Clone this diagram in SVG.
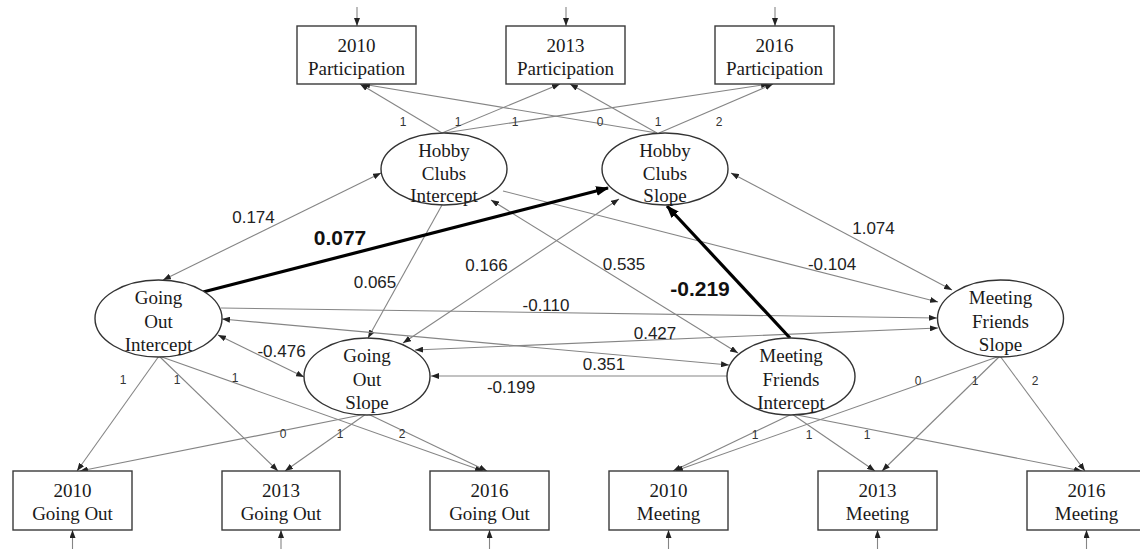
<svg xmlns="http://www.w3.org/2000/svg" width="1140" height="549" viewBox="0 0 1140 549">
<style>
.box{fill:#fff;stroke:#3a3a3a;stroke-width:1.4}
.ell{fill:#fff;stroke:#333;stroke-width:1.4}
.nt{font-family:"Liberation Serif","Times New Roman",serif;font-size:19px;fill:#1a1a1a;text-anchor:middle}
.ln{fill:none;stroke:#858585;stroke-width:1.1}
.th{fill:none;stroke:#000;stroke-width:3.2}
.lab{font-family:"Liberation Sans",Arial,sans-serif;font-size:17px;fill:#222;text-anchor:middle}
.bl{font-family:"Liberation Sans",Arial,sans-serif;font-size:21px;font-weight:bold;fill:#111;text-anchor:middle}
.sm{font-family:"Liberation Sans",Arial,sans-serif;font-size:12px;fill:#333;text-anchor:middle}
</style>
<defs>
<marker id="a" viewBox="0 0 8 6" refX="8" refY="3" markerWidth="8" markerHeight="6" orient="auto-start-reverse" markerUnits="userSpaceOnUse"><path d="M0,0 L8,3 L0,6 z" fill="#222"/></marker>
<marker id="b" viewBox="0 0 12 9" refX="11" refY="4.5" markerWidth="13" markerHeight="10" orient="auto" markerUnits="userSpaceOnUse"><path d="M0,0 L12,4.5 L0,9 z" fill="#000"/></marker>
</defs>
<rect width="1140" height="549" fill="#fff"/>

<g id="connectors">
<!-- error arrows -->
<line class="ln" x1="357" y1="7" x2="357" y2="26" marker-end="url(#a)"/>
<line class="ln" x1="566" y1="7" x2="566" y2="26" marker-end="url(#a)"/>
<line class="ln" x1="775" y1="7" x2="775" y2="26" marker-end="url(#a)"/>
<line class="ln" x1="72.5" y1="549" x2="72.5" y2="530" marker-end="url(#a)"/>
<line class="ln" x1="281" y1="549" x2="281" y2="530" marker-end="url(#a)"/>
<line class="ln" x1="489.5" y1="549" x2="489.5" y2="530" marker-end="url(#a)"/>
<line class="ln" x1="668.5" y1="549" x2="668.5" y2="530" marker-end="url(#a)"/>
<line class="ln" x1="877.5" y1="549" x2="877.5" y2="530" marker-end="url(#a)"/>
<line class="ln" x1="1086.5" y1="549" x2="1086.5" y2="530" marker-end="url(#a)"/>
<!-- hobby loadings -->
<line class="ln" x1="442" y1="133" x2="360" y2="84" marker-end="url(#a)"/>
<line class="ln" x1="442" y1="133" x2="560" y2="84" marker-end="url(#a)"/>
<line class="ln" x1="444" y1="133" x2="769" y2="84" marker-end="url(#a)"/>
<line class="ln" x1="657" y1="133" x2="362" y2="84" marker-end="url(#a)"/>
<line class="ln" x1="657" y1="133" x2="570" y2="84" marker-end="url(#a)"/>
<line class="ln" x1="659" y1="133" x2="773" y2="84" marker-end="url(#a)"/>
<!-- going out loadings -->
<line class="ln" x1="159" y1="356" x2="77" y2="471" marker-end="url(#a)"/>
<line class="ln" x1="159" y1="356" x2="278" y2="471" marker-end="url(#a)"/>
<line class="ln" x1="159" y1="356" x2="483" y2="471" marker-end="url(#a)"/>
<line class="ln" x1="366" y1="414" x2="80" y2="471" marker-end="url(#a)"/>
<line class="ln" x1="366" y1="414" x2="285" y2="471" marker-end="url(#a)"/>
<line class="ln" x1="368" y1="414" x2="487" y2="471" marker-end="url(#a)"/>
<!-- meeting loadings -->
<line class="ln" x1="792" y1="414" x2="673" y2="471" marker-end="url(#a)"/>
<line class="ln" x1="792" y1="414" x2="875" y2="471" marker-end="url(#a)"/>
<line class="ln" x1="792" y1="414" x2="1082" y2="471" marker-end="url(#a)"/>
<line class="ln" x1="1000" y1="356" x2="675" y2="471" marker-end="url(#a)"/>
<line class="ln" x1="1000" y1="356" x2="882" y2="471" marker-end="url(#a)"/>
<line class="ln" x1="1000" y1="356" x2="1085" y2="471" marker-end="url(#a)"/>
<!-- structural -->
<line class="ln" x1="163" y1="280" x2="381" y2="173" marker-start="url(#a)" marker-end="url(#a)"/>
<line class="ln" x1="442" y1="205" x2="368" y2="338" marker-end="url(#a)"/>
<line class="ln" x1="619" y1="199" x2="403" y2="343" marker-start="url(#a)" marker-end="url(#a)"/>
<line class="ln" x1="491" y1="200" x2="738" y2="353" marker-start="url(#a)" marker-end="url(#a)"/>
<line class="ln" x1="503" y1="191" x2="938" y2="302" marker-end="url(#a)"/>
<line class="ln" x1="731" y1="173" x2="952" y2="290" marker-start="url(#a)" marker-end="url(#a)"/>
<line class="ln" x1="221" y1="308" x2="937" y2="318" marker-end="url(#a)"/>
<line class="ln" x1="222" y1="319" x2="729" y2="365" marker-start="url(#a)" marker-end="url(#a)"/>
<line class="ln" x1="415" y1="350" x2="938" y2="328" marker-start="url(#a)" marker-end="url(#a)"/>
<line class="ln" x1="727" y1="376" x2="431" y2="376" marker-end="url(#a)"/>
<line class="ln" x1="218" y1="335" x2="304" y2="377" marker-start="url(#a)" marker-end="url(#a)"/>
<line class="th" x1="203" y1="292" x2="608" y2="188" marker-end="url(#b)"/>
<line class="th" x1="790" y1="338" x2="667" y2="206" marker-end="url(#b)"/>
<!-- labels -->
<text class="lab" x="253.5" y="223">0.174</text>
<text class="bl" x="340" y="245">0.077</text>
<text class="lab" x="375" y="288">0.065</text>
<text class="lab" x="486.5" y="271">0.166</text>
<text class="lab" x="624" y="270">0.535</text>
<text class="bl" x="700" y="296">-0.219</text>
<text class="lab" x="873.5" y="234">1.074</text>
<text class="lab" x="832" y="270">-0.104</text>
<text class="lab" x="546" y="311">-0.110</text>
<text class="lab" x="655" y="339">0.427</text>
<text class="lab" x="604" y="370">0.351</text>
<text class="lab" x="511" y="393">-0.199</text>
<text class="lab" x="281.5" y="357">-0.476</text>
<text class="sm" x="403" y="126">1</text>
<text class="sm" x="458" y="126">1</text>
<text class="sm" x="515" y="126">1</text>
<text class="sm" x="600" y="126">0</text>
<text class="sm" x="658" y="126">1</text>
<text class="sm" x="719" y="126">2</text>
<text class="sm" x="123" y="384">1</text>
<text class="sm" x="177" y="384">1</text>
<text class="sm" x="235" y="382">1</text>
<text class="sm" x="283" y="438">0</text>
<text class="sm" x="340" y="438">1</text>
<text class="sm" x="402" y="438">2</text>
<text class="sm" x="755" y="439">1</text>
<text class="sm" x="809" y="439">1</text>
<text class="sm" x="867" y="439">1</text>
<text class="sm" x="918" y="385">0</text>
<text class="sm" x="975" y="385">1</text>
<text class="sm" x="1035" y="385">2</text>
</g>

<g id="p2010"><rect class="box" x="297" y="26" width="119" height="58"/><text class="nt" x="356.5" y="52">2010</text><text class="nt" x="356.5" y="75">Participation</text></g>
<g id="p2013"><rect class="box" x="506" y="26" width="119" height="58"/><text class="nt" x="565.5" y="52">2013</text><text class="nt" x="565.5" y="75">Participation</text></g>
<g id="p2016"><rect class="box" x="715" y="26" width="119" height="58"/><text class="nt" x="774.5" y="52">2016</text><text class="nt" x="774.5" y="75">Participation</text></g>

<g id="hci"><ellipse class="ell" cx="444" cy="169" rx="63" ry="36"/><text class="nt" x="444" y="157">Hobby</text><text class="nt" x="444" y="180">Clubs</text><text class="nt" x="444" y="202">Intercept</text></g>
<g id="hcs"><ellipse class="ell" cx="665" cy="169" rx="63" ry="36"/><text class="nt" x="665" y="157">Hobby</text><text class="nt" x="665" y="180">Clubs</text><text class="nt" x="665" y="202">Slope</text></g>
<g id="goi"><ellipse class="ell" cx="158.5" cy="318.5" rx="63.5" ry="38.5"/><text class="nt" x="158.5" y="304">Going</text><text class="nt" x="158.5" y="328">Out</text><text class="nt" x="158.5" y="351">Intercept</text></g>
<g id="gos"><ellipse class="ell" cx="367" cy="376.5" rx="63" ry="38.5"/><text class="nt" x="367" y="362">Going</text><text class="nt" x="367" y="386">Out</text><text class="nt" x="367" y="409">Slope</text></g>
<g id="mfi"><ellipse class="ell" cx="791" cy="376.5" rx="64" ry="38.5"/><text class="nt" x="791" y="362">Meeting</text><text class="nt" x="791" y="386">Friends</text><text class="nt" x="791" y="409">Intercept</text></g>
<g id="mfs"><ellipse class="ell" cx="1000.5" cy="318.5" rx="63" ry="38.5"/><text class="nt" x="1000.5" y="304">Meeting</text><text class="nt" x="1000.5" y="328">Friends</text><text class="nt" x="1000.5" y="351">Slope</text></g>

<g id="g2010"><rect class="box" x="13" y="471" width="119" height="59"/><text class="nt" x="72.5" y="497">2010</text><text class="nt" x="72.5" y="520">Going Out</text></g>
<g id="g2013"><rect class="box" x="222" y="471" width="118" height="59"/><text class="nt" x="281" y="497">2013</text><text class="nt" x="281" y="520">Going Out</text></g>
<g id="g2016"><rect class="box" x="430" y="471" width="119" height="59"/><text class="nt" x="489.5" y="497">2016</text><text class="nt" x="489.5" y="520">Going Out</text></g>
<g id="m2010"><rect class="box" x="609" y="471" width="119" height="59"/><text class="nt" x="668.5" y="497">2010</text><text class="nt" x="668.5" y="520">Meeting</text></g>
<g id="m2013"><rect class="box" x="818" y="471" width="119" height="59"/><text class="nt" x="877.5" y="497">2013</text><text class="nt" x="877.5" y="520">Meeting</text></g>
<g id="m2016"><rect class="box" x="1027" y="471" width="119" height="59"/><text class="nt" x="1086.5" y="497">2016</text><text class="nt" x="1086.5" y="520">Meeting</text></g>
</svg>
